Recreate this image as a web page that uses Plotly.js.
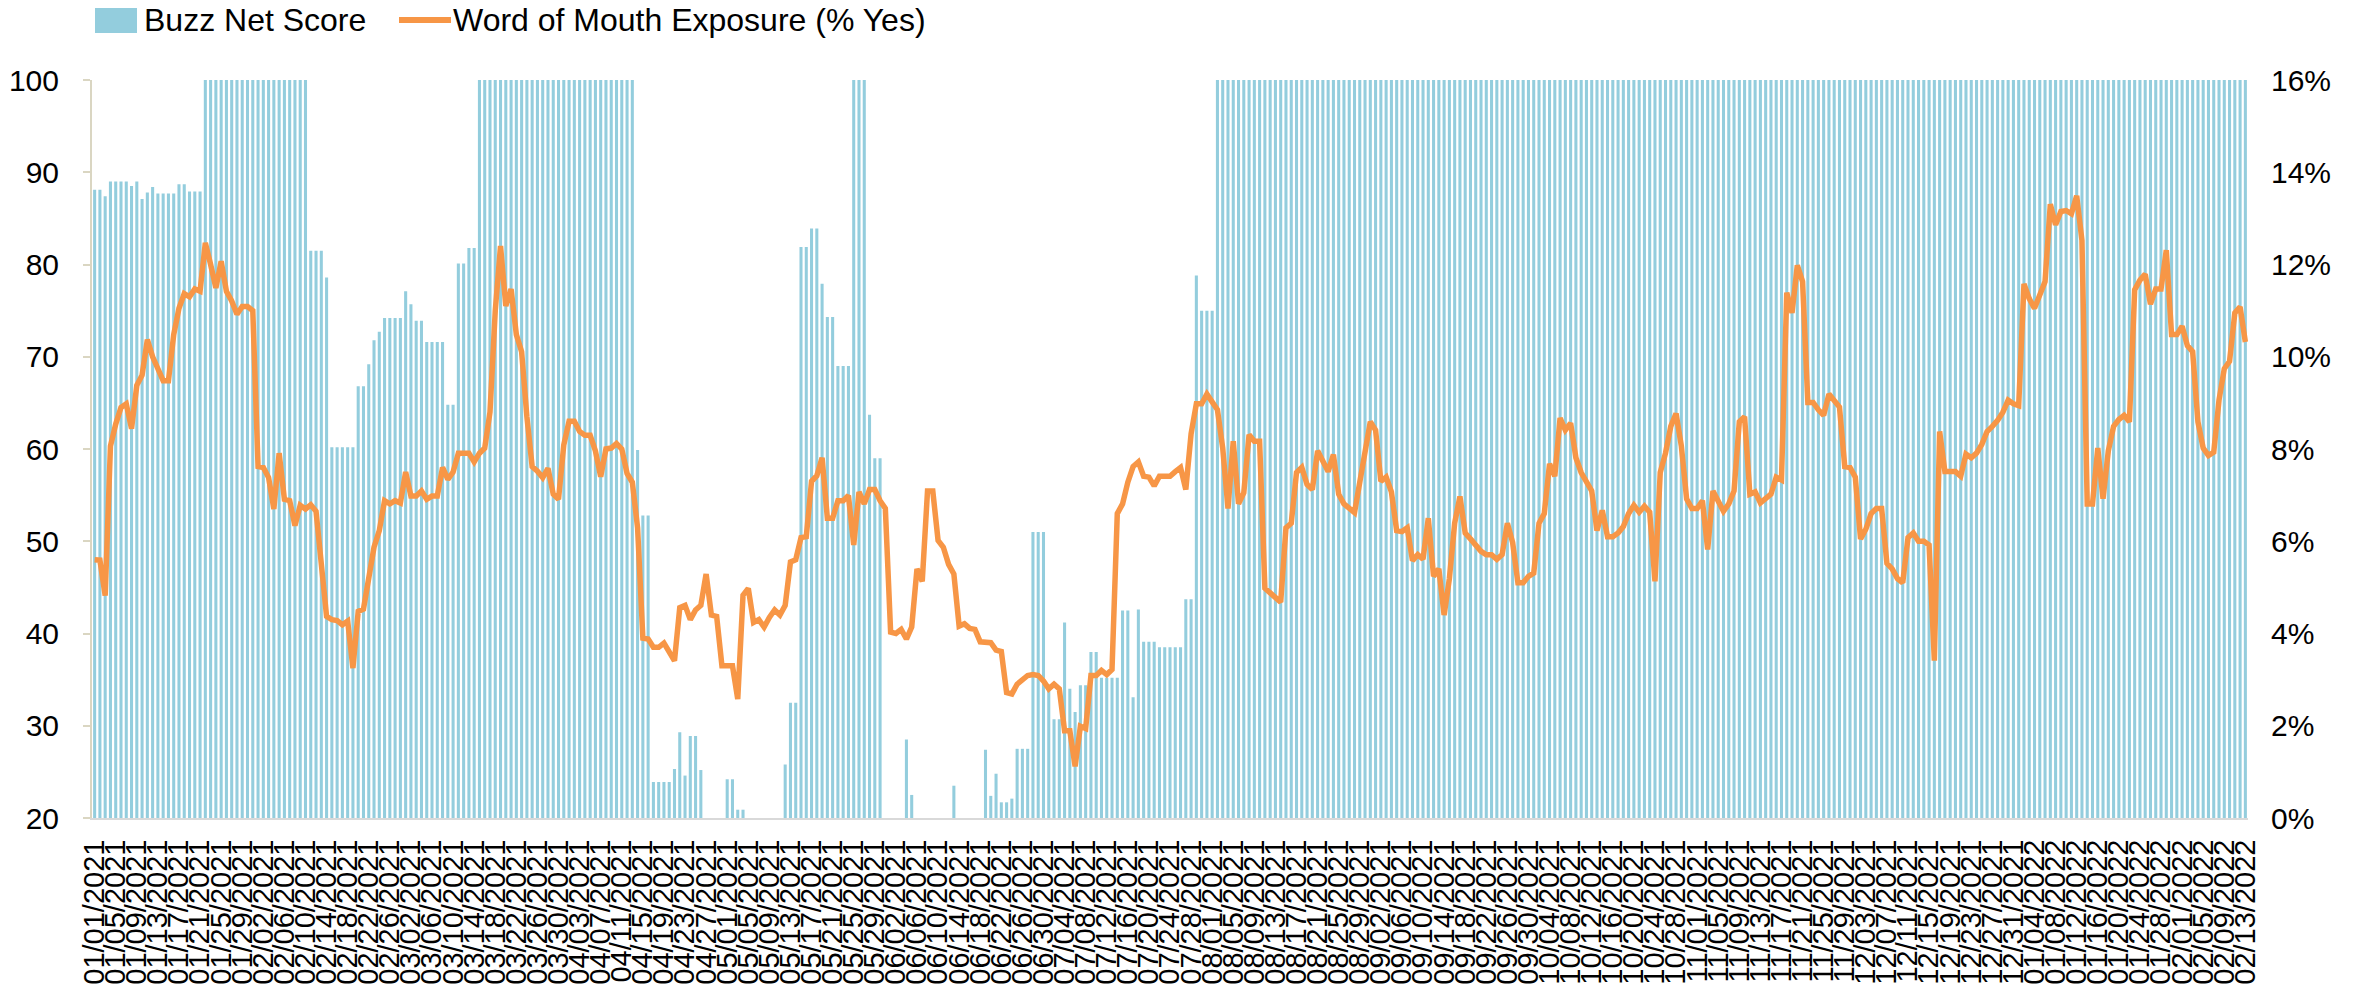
<!DOCTYPE html>
<html>
<head>
<meta charset="utf-8">
<script src="https://cdn.plot.ly/plotly-3.0.1.min.js"></script>
<style>
  html, body { margin: 0; padding: 0; background: #ffffff; }
  #chart { width: 2371px; height: 1000px; }
</style>
</head>
<body>
<div id="chart"></div>
<script>
// ---- Data ----
const startDate = [2021, 1, 1];   // first day of the daily series (Y, M, D)

// Buzz Net Score (left axis), one value per day
const buzzNetScore = [
  88.1,88.1,87.4,89.0,89.0,89.0,89.0,88.5,89.0,87.1,87.8,88.4,87.7,87.7,87.7,87.7,88.7,88.7,87.9,87.9,87.9,
  100,100,100,100,100,100,100,100,100,100,100,100,100,100,100,100,100,100,100,100,
  81.5,81.5,81.5,78.6,
  60.2,60.2,60.2,60.2,60.2,
  66.8,66.8,69.2,71.8,72.7,
  74.2,74.2,74.2,74.2,
  77.1,75.7,73.9,73.9,
  71.6,71.6,71.6,71.6,
  64.8,64.8,
  80.1,80.1,81.8,81.8,
  100,100,100,100,100,100,100,100,100,100,100,100,100,100,100,100,100,100,100,100,100,100,100,100,100,100,100,100,100,100,
  59.9,52.8,52.8,
  23.9,23.9,23.9,23.9,
  25.3,29.3,24.6,28.9,28.9,25.2,
  20,20,20,20,
  24.2,24.2,20.9,20.9,
  20,20,20,20,20,20,20,
  25.8,32.5,32.5,
  81.9,81.9,83.9,83.9,
  77.9,74.3,74.3,69.0,69.0,69.0,
  100,100,100,
  63.7,59.0,59.0,
  20,20,20,20,
  28.5,22.5,
  20,20,20,20,20,20,20,
  23.5,
  20,20,20,20,20,
  27.4,22.4,24.8,21.7,21.7,22.1,
  27.5,27.5,27.5,
  51.0,51.0,51.0,
  33.9,30.7,30.7,41.2,34.0,31.5,34.4,34.4,
  38.0,38.0,35.2,35.2,35.2,35.2,
  42.5,42.5,33.1,42.6,39.1,39.1,39.1,
  38.5,38.5,38.5,38.5,38.5,
  43.7,43.7,78.8,75.0,75.0,75.0,
  100,100,100,100,100,100,100,100,100,100,100,100,100,100,100,100,100,100,100,100,
  100,100,100,100,100,100,100,100,100,100,100,100,100,100,100,100,100,100,100,100,
  100,100,100,100,100,100,100,100,100,100,100,100,100,100,100,100,100,100,100,100,
  100,100,100,100,100,100,100,100,100,100,100,100,100,100,100,100,100,100,100,100,
  100,100,100,100,100,100,100,100,100,100,100,100,100,100,100,100,100,100,100,100,
  100,100,100,100,100,100,100,100,100,100,100,100,100,100,100,100,100,100,100,100,
  100,100,100,100,100,100,100,100,100,100,100,100,100,100,100,100,100,100,100,100,
  100,100,100,100,100,100,100,100,100,100,100,100,100,100,100,100,100,100,100,100,
  100,100,100,100,100,100,100,100,100,100,100,100,100,100,100,100,100,100,100,100,
  100,100,100,100,100,100,100,100,100,100,100,100,100,100,100,100
];

// Word of Mouth Exposure (% Yes), right axis, one value per day
const wordOfMouthPct = [
  5.60,5.59,4.82,8.06,8.54,8.90,8.98,8.44,9.38,9.60,10.37,10.00,9.74,9.48,9.48,10.48,11.05,11.37,11.30,11.47,
  11.42,12.47,12.00,11.49,12.07,11.42,11.21,10.92,11.09,11.09,11.00,7.62,7.60,7.38,6.70,7.91,6.91,6.88,6.34,6.78,
  6.70,6.79,6.65,5.50,4.37,4.30,4.28,4.19,4.27,3.25,4.48,4.53,5.29,5.87,6.23,6.88,6.81,6.88,6.83,7.50,
  6.98,6.98,7.09,6.91,6.98,6.98,7.60,7.34,7.50,7.91,7.91,7.91,7.72,7.91,8.02,8.80,11.00,12.40,11.10,11.47,
  10.48,10.11,8.70,7.62,7.52,7.38,7.58,7.02,6.91,8.09,8.60,8.60,8.38,8.30,8.30,7.96,7.40,8.00,8.02,8.12,
  8.00,7.47,7.28,6.29,3.90,3.88,3.70,3.70,3.79,3.62,3.41,4.56,4.61,4.30,4.51,4.61,5.29,4.40,4.37,3.30,
  3.30,3.30,2.58,4.83,4.98,4.24,4.30,4.14,4.35,4.51,4.40,4.61,5.55,5.60,6.08,6.10,7.30,7.42,7.81,6.50,
  6.50,6.88,6.88,6.99,5.92,7.07,6.81,7.12,7.12,6.88,6.71,4.03,4.00,4.09,3.88,4.14,5.40,5.13,7.09,7.09,
  6.02,5.87,5.50,5.29,4.16,4.21,4.11,4.09,3.82,3.80,3.80,3.64,3.61,2.72,2.69,2.90,2.99,3.09,3.11,3.09,
  2.97,2.80,2.90,2.80,1.89,1.89,1.12,1.99,1.94,3.09,3.09,3.20,3.11,3.22,6.60,6.81,7.28,7.62,7.72,7.41,
  7.39,7.20,7.41,7.41,7.41,7.51,7.60,7.12,8.33,8.98,8.98,9.19,9.01,8.85,8.02,6.71,8.17,6.81,7.05,8.31,
  8.17,8.17,4.98,4.87,4.77,4.68,6.29,6.39,7.49,7.60,7.23,7.12,7.96,7.70,7.51,7.88,7.02,6.81,6.71,6.62,
  7.28,8.02,8.59,8.41,7.30,7.39,7.07,6.23,6.21,6.29,5.58,5.71,5.61,6.50,5.24,5.40,4.40,5.19,6.39,6.97,
  6.18,6.05,5.92,5.78,5.71,5.71,5.61,5.71,6.39,5.97,5.10,5.10,5.24,5.31,6.39,6.60,7.68,7.41,8.67,8.41,
  8.56,7.81,7.49,7.28,7.09,6.23,6.67,6.10,6.10,6.18,6.32,6.60,6.78,6.63,6.76,6.63,5.13,7.49,7.91,8.49,
  8.77,8.07,6.92,6.71,6.71,6.88,5.82,7.09,6.88,6.65,6.81,7.09,8.59,8.70,7.02,7.07,6.83,6.92,7.02,7.39,
  7.33,11.39,10.95,11.98,11.63,9.01,9.01,8.85,8.73,9.19,9.03,8.91,7.62,7.60,7.39,6.05,6.26,6.60,6.71,6.71,
  5.52,5.40,5.19,5.10,6.08,6.18,6.00,6.00,5.92,3.41,8.38,7.51,7.51,7.51,7.41,7.89,7.81,7.91,8.10,8.38,
  8.49,8.62,8.80,9.06,8.98,8.94,11.58,11.26,11.05,11.32,11.63,13.31,12.86,13.15,13.17,13.10,13.49,12.52,6.81,6.81,
  8.02,6.92,7.96,8.49,8.64,8.73,8.59,11.45,11.66,11.79,11.14,11.47,11.47,12.31,10.48,10.48,10.66,10.24,10.11,8.59,
  8.02,7.86,7.93,9.06,9.74,9.90,10.95,11.08,10.32
];

const seriesNames = ['Buzz Net Score', 'Word of Mouth Exposure (% Yes)'];
const seriesColors = ['#93CDDD', '#F79646'];
const leftTicks = [20, 30, 40, 50, 60, 70, 80, 90, 100];
const rightTicks = [0, 2, 4, 6, 8, 10, 12, 14, 16];
const labelEvery = 4;   // a date label every 4th day

// ---- Build the category (date) list ----
function pad(n) { return (n < 10 ? '0' : '') + n; }
const dates = [];
for (let i = 0; i < buzzNetScore.length; i++) {
  const d = new Date(Date.UTC(startDate[0], startDate[1] - 1, startDate[2] + i));
  dates.push(pad(d.getUTCMonth() + 1) + '/' + pad(d.getUTCDate()) + '/' + d.getUTCFullYear());
}
const tickIdx = [], tickTxt = [];
for (let i = 0; i < dates.length; i += labelEvery) { tickIdx.push(i); tickTxt.push(dates[i]); }

const FONT = 'Liberation Sans, Arial, Helvetica, sans-serif';

// plot area in pixels (used to place the legend drawn above it)
const M = { l: 92, r: 123, t: 80, b: 182 };
const W = 2371, H = 1000;
const PW = W - M.l - M.r, PH = H - M.t - M.b;
const px = x => (x - M.l) / PW;          // page px -> paper x
const py = y => (H - M.b - y) / PH;      // page px -> paper y

const traces = [
  {
    type: 'bar',
    name: seriesNames[0],
    x: dates,
    y: buzzNetScore,
    marker: { color: seriesColors[0], line: { width: 0 } },
    yaxis: 'y',
    showlegend: false
  },
  {
    type: 'scatter',
    mode: 'lines',
    name: seriesNames[1],
    x: dates,
    y: wordOfMouthPct,
    line: { color: seriesColors[1], width: 5.5 },
    yaxis: 'y2',
    showlegend: false
  }
];

const layout = {
  width: W,
  height: H,
  paper_bgcolor: '#ffffff',
  plot_bgcolor: '#ffffff',
  margin: { l: M.l, r: M.r, t: M.t, b: M.b, pad: 0 },
  font: { family: FONT, size: 30, color: '#000000' },
  bargap: 0.42,
  showlegend: false,
  shapes: [
    { type: 'rect', xref: 'paper', yref: 'paper',
      x0: px(95), x1: px(137), y0: py(33), y1: py(8),
      fillcolor: seriesColors[0], line: { width: 0 } },
    { type: 'line', xref: 'paper', yref: 'paper',
      x0: px(399), x1: px(451), y0: py(20), y1: py(20),
      line: { color: seriesColors[1], width: 6 } }
  ],
  annotations: [
    { xref: 'paper', yref: 'paper', x: px(142), y: py(20), xanchor: 'left', yanchor: 'middle',
      text: seriesNames[0], showarrow: false, font: { family: FONT, size: 32, color: '#000000' } },
    { xref: 'paper', yref: 'paper', x: px(451), y: py(20), xanchor: 'left', yanchor: 'middle',
      text: seriesNames[1], showarrow: false, font: { family: FONT, size: 32, color: '#000000' } }
  ],
  xaxis: {
    type: 'category',
    tickmode: 'array',
    tickvals: tickIdx,
    ticktext: tickTxt,
    tickangle: -90,
    tickfont: { family: FONT, size: 29, color: '#000000' },
    ticks: '',
    showgrid: false,
    zeroline: false,
    showline: true,
    linecolor: '#D9D9D9',
    linewidth: 2,
    automargin: false,
    ticklabelstandoff: 8,
    fixedrange: true
  },
  yaxis: {
    range: [20, 100],
    tickmode: 'array',
    tickvals: leftTicks,
    ticktext: leftTicks.map(String),
    tickfont: { family: FONT, size: 30, color: '#000000' },
    showgrid: false,
    zeroline: false,
    showline: true,
    linecolor: '#DAD6C2',
    linewidth: 2,
    ticks: 'outside',
    ticklen: 7,
    tickwidth: 2,
    tickcolor: '#DAD6C2',
    ticklabelstandoff: 18,
    automargin: false,
    fixedrange: true
  },
  yaxis2: {
    overlaying: 'y',
    side: 'right',
    range: [0, 16],
    tickmode: 'array',
    tickvals: rightTicks,
    ticktext: rightTicks.map(v => v + '%'),
    tickfont: { family: FONT, size: 30, color: '#000000' },
    showgrid: false,
    zeroline: false,
    showline: false,
    ticks: '',
    ticklabelstandoff: 22,
    automargin: false,
    fixedrange: true
  }
};

Plotly.newPlot('chart', traces, layout, { displayModeBar: false, staticPlot: true });
</script>
</body>
</html>
